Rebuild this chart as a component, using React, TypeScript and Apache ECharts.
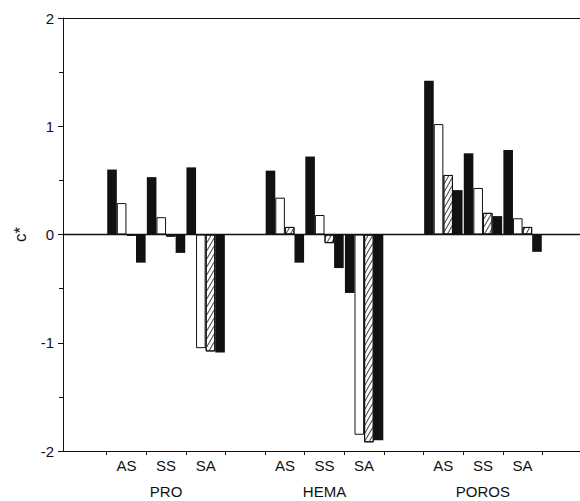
import React, { useEffect, useRef } from 'react';
import * as echarts from 'echarts';

const groups = ['PRO', 'HEMA', 'POROS'];
const subgroups = ['AS', 'SS', 'SA'];
// order: PRO AS, PRO SS, PRO SA, HEMA AS, HEMA SS, HEMA SA, POROS AS, POROS SS, POROS SA
const solidFirst = [0.6, 0.53, 0.62, 0.59, 0.72, -0.54, 1.42, 0.75, 0.78];
const openBar = [0.29, 0.16, -1.05, 0.34, 0.18, -1.85, 1.02, 0.43, 0.15];
const hatchedBar = [-0.01, -0.02, -1.08, 0.07, -0.08, -1.92, 0.55, 0.2, 0.07];
const solidLast = [-0.26, -0.17, -1.09, -0.26, -0.31, -1.9, 0.41, 0.17, -0.16];
const yMin = -2;
const yMax = 2;
const yInterval = 1;

const cats: string[] = [];
const slot: (number | null)[] = [];
cats.push('gap0');
slot.push(null);
groups.forEach((g, gi) => {
  subgroups.forEach((s, si) => {
    cats.push(g + '|' + s);
    slot.push(gi * 3 + si);
  });
  cats.push('gap' + (gi + 1));
  slot.push(null);
});

const toData = (arr: number[]) => slot.map((i) => (i === null ? '-' : arr[i]));

const INK = '#111';
const FONT = '"Liberation Sans", Arial, Helvetica, sans-serif';

export default function App() {
  const ref = useRef<HTMLDivElement>(null);
  useEffect(() => {
    if (!ref.current) return;
    const chart = echarts.init(ref.current, null, { renderer: 'svg' });
    const barCommon = {
      type: 'bar',
      xAxisIndex: 2,
      yAxisIndex: 1,
      barWidth: 9.6,
      barGap: '0%',
      silent: true,
    };
    chart.setOption({
      animation: false,
      backgroundColor: '#fff',
      textStyle: { fontFamily: FONT, color: INK },
      grid: [
        { left: 63, right: 0, top: 18, bottom: 50, containLabel: false, outerBoundsMode: 'none' },
        { left: 67, right: -2, top: 18, bottom: 50, containLabel: false, outerBoundsMode: 'none' },
      ],
      xAxis: [
        {
          gridIndex: 0, type: 'value', min: 0, max: 1, position: 'bottom',
          axisLine: { show: true, onZero: false, lineStyle: { color: INK, width: 1.2 } },
          axisTick: { show: false }, axisLabel: { show: false }, splitLine: { show: false },
        },
        {
          gridIndex: 0, type: 'value', min: 0, max: 1, position: 'top',
          axisLine: { show: true, onZero: false, lineStyle: { color: INK, width: 1.2 } },
          axisTick: { show: false }, axisLabel: { show: false }, splitLine: { show: false },
        },
        {
          gridIndex: 1, type: 'category', data: cats, position: 'bottom',
          axisLine: { show: false, onZero: false },
          axisTick: { show: true, length: 4, interval: (i: number) => i !== 0, lineStyle: { color: INK } },
          axisLabel: {
            interval: 0, fontSize: 15, color: INK, margin: 1, lineHeight: 26, fontFamily: FONT,
            formatter: (v: string) => {
              if (v.startsWith('gap')) return '';
              const [g, s] = v.split('|');
              return s === 'SS' ? s + '\n' + g : s;
            },
          },
          splitLine: { show: false },
        },
      ],
      yAxis: [
        {
          gridIndex: 0, type: 'value', min: yMin, max: yMax, interval: yInterval,
          axisLine: { show: true, lineStyle: { color: INK, width: 1 } },
          axisTick: { show: true, length: 5, lineStyle: { color: INK } },
          minorTick: { show: true, splitNumber: 2, length: 4, lineStyle: { color: INK } },
          axisLabel: { fontSize: 15, color: INK, margin: 9, fontFamily: FONT },
          splitLine: { show: false },
          minorSplitLine: { show: false },
          name: 'c*', nameLocation: 'middle', nameGap: 34, nameRotate: 90,
          nameTextStyle: { fontSize: 17, color: INK, fontFamily: FONT },
        },
        { gridIndex: 1, type: 'value', min: yMin, max: yMax, show: false },
      ],
      series: [
        {
          type: 'line', xAxisIndex: 0, yAxisIndex: 0, data: [[0, 0], [1, 0]],
          symbol: 'none', silent: true, lineStyle: { color: INK, width: 1.5 },
        },
        { ...barCommon, name: 'solid1', data: toData(solidFirst), itemStyle: { color: INK } },
        {
          ...barCommon, name: 'open', data: toData(openBar),
          itemStyle: { color: '#fff', borderColor: INK, borderWidth: 1 },
        },
        {
          ...barCommon, name: 'hatched', data: toData(hatchedBar),
          itemStyle: {
            color: '#fff', borderColor: INK, borderWidth: 1,
            decal: {
              symbol: 'rect', symbolSize: 1, color: '#444',
              dashArrayX: [1, 0], dashArrayY: [1, 2.5], rotation: -Math.PI / 3,
            },
          },
        },
        { ...barCommon, name: 'solid2', data: toData(solidLast), itemStyle: { color: INK } },
      ],
    });
    return () => chart.dispose();
  }, []);
  return (
    <div
      ref={ref}
      style={{ position: 'fixed', left: 0, top: 0, width: 580, height: 501 }}
    />
  );
}
